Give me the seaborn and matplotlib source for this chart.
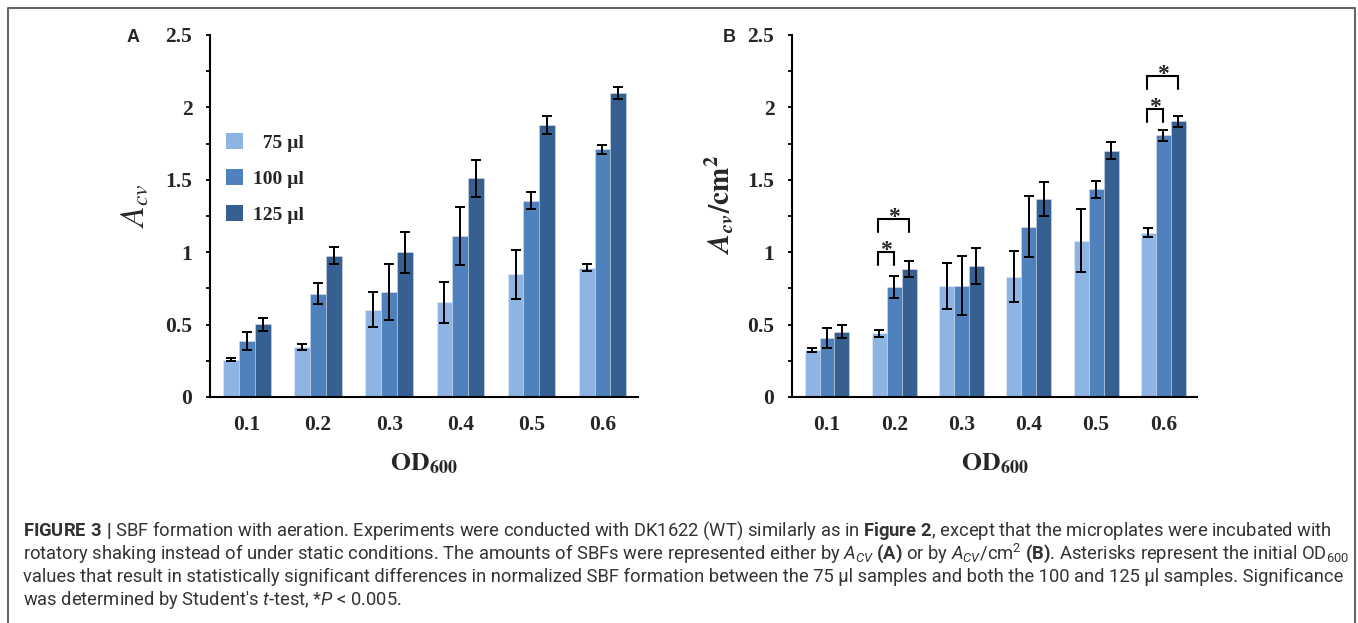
import numpy as np
import pandas as pd
import matplotlib
matplotlib.use("Agg")
import matplotlib.pyplot as plt
import seaborn as sns
from matplotlib.patches import Patch
from matplotlib.lines import Line2D
from matplotlib.ticker import MultipleLocator
from matplotlib.container import BarContainer

# ---------------- data ----------------
od_labels = ["0.1", "0.2", "0.3", "0.4", "0.5", "0.6"]
volumes = ["75 µl", "100 µl", "125 µl"]
legend_labels = ["  75 µl", "100 µl", "125 µl"]

# Panel A: A_cv
a_75 = [0.258, 0.346, 0.604, 0.654, 0.848, 0.894]
a_100 = [0.385, 0.714, 0.726, 1.113, 1.357, 1.712]
a_125 = [0.502, 0.975, 0.998, 1.509, 1.878, 2.099]
a_75_err = [0.012, 0.020, 0.123, 0.140, 0.170, 0.026]
a_100_err = [0.063, 0.073, 0.192, 0.200, 0.059, 0.031]
a_125_err = [0.046, 0.058, 0.140, 0.130, 0.063, 0.043]

# Panel B: A_cv/cm^2
b_75 = [0.323, 0.440, 0.765, 0.832, 1.078, 1.136]
b_100 = [0.408, 0.758, 0.770, 1.177, 1.435, 1.806]
b_125 = [0.452, 0.882, 0.906, 1.366, 1.700, 1.903]
b_75_err = [0.014, 0.024, 0.158, 0.177, 0.218, 0.032]
b_100_err = [0.069, 0.076, 0.203, 0.211, 0.060, 0.036]
b_125_err = [0.043, 0.054, 0.124, 0.117, 0.059, 0.039]

# significance brackets in panel B: (category index, bracket top, leg bottom)
sig_small = [(1, 1.00, 0.91), (5, 1.99, 1.90)]
sig_large = [(1, 1.23, 1.14), (5, 2.22, 2.13)]

colors = ["#8EB4E3", "#4F81BD", "#376092"]

# ---------------- style ----------------
sns.set_style("ticks")
plt.rcParams["font.family"] = ["Liberation Serif", "DejaVu Serif"]
plt.rcParams["mathtext.fontset"] = "custom"
plt.rcParams["mathtext.rm"] = "Roboto"
plt.rcParams["mathtext.it"] = "Roboto:italic"
plt.rcParams["mathtext.bf"] = "Roboto:bold"

W, H = 1358, 623
fig = plt.figure(figsize=(W / 100, H / 100), dpi=100)


def fx(px):
    return px / W


def fy(py):
    return 1 - py / H


axA = fig.add_axes([fx(210), fy(397), fx(638) - fx(210), fy(35) - fy(397)])
axB = fig.add_axes([fx(792), fy(397), fx(1197) - fx(792), fy(35) - fy(397)])


def panel(ax, vals, errs):
    df = pd.DataFrame({
        "od": od_labels * 3,
        "vol": np.repeat(volumes, len(od_labels)),
        "val": np.concatenate(vals),
    })
    sns.barplot(data=df, x="od", y="val", hue="vol", order=od_labels,
                hue_order=volumes, palette=colors, width=0.667, gap=0,
                errorbar=None, saturation=1, legend=False, ax=ax,
                edgecolor=(1, 1, 1, 0.35), linewidth=0.6)
    bars = [c for c in ax.containers if isinstance(c, BarContainer)]
    for cont, err in zip(bars, errs):
        xs = [p.get_x() + p.get_width() / 2 for p in cont]
        hs = [p.get_height() for p in cont]
        ax.errorbar(xs, hs, yerr=err, fmt="none", ecolor="black",
                    elinewidth=1.4, capsize=3.5, capthick=1.4, zorder=5)
    ax.set_ylim(0, 2.5)
    ax.set_xlim(-0.52, 5.5)
    ax.yaxis.set_major_locator(MultipleLocator(0.5))
    ax.yaxis.set_minor_locator(MultipleLocator(0.25))
    ax.yaxis.set_major_formatter(matplotlib.ticker.FuncFormatter(lambda v, p: f"{v:g}"))
    ax.tick_params(axis="y", which="both", direction="out", length=3.2,
                   width=1.3, color="black", pad=9.5)
    ax.tick_params(axis="x", length=0, pad=13)
    for lab in ax.get_xticklabels() + ax.get_yticklabels():
        lab.set_fontweight("bold")
        lab.set_fontsize(15.5)
        lab.set_fontfamily(["Liberation Serif", "DejaVu Serif"])
    for s in ["top", "right"]:
        ax.spines[s].set_visible(False)
    for s in ["left", "bottom"]:
        ax.spines[s].set_linewidth(1.5)
        ax.spines[s].set_color("black")
    ax.set_xlabel("")
    ax.set_ylabel("")
    return bars


barsA = panel(axA, [a_75, a_100, a_125], [a_75_err, a_100_err, a_125_err])
barsB = panel(axB, [b_75, b_100, b_125], [b_75_err, b_100_err, b_125_err])

# legend in panel A
handles = [Patch(facecolor=c, edgecolor="none") for c in colors]
leg = axA.legend(handles, legend_labels, loc="upper left",
                 bbox_to_anchor=(0.038, 0.728), frameon=False,
                 borderaxespad=0, borderpad=0, handlelength=0.85,
                 handleheight=0.85, handletextpad=0.5, labelspacing=0.9,
                 prop={"family": "Liberation Serif", "weight": "bold", "size": 14})


# significance brackets in panel B
def centers(bars, idx):
    return [(c[idx].get_x() + c[idx].get_width() / 2) for c in bars]


for (i, top, bot), (j, top2, bot2) in zip(sig_small, sig_large):
    c = centers(barsB, i)
    x0 = c[0] - 0.02
    axB.plot([x0, x0, c[1], c[1]], [bot, top, top, bot], color="black", lw=1.5,
             solid_joinstyle="miter", zorder=6)
    axB.text((x0 + c[1]) / 2, top + 0.01, "*", ha="center", va="center",
             fontsize=17, fontweight="bold", family="Liberation Serif")
    axB.plot([x0, x0, c[2], c[2]], [bot2, top2, top2, bot2], color="black", lw=1.5,
             solid_joinstyle="miter", zorder=6)
    axB.text((x0 + c[2]) / 2, top2 + 0.01, "*", ha="center", va="center",
             fontsize=17, fontweight="bold", family="Liberation Serif")

# axis labels
fig.text(fx(135), fy(206), r"$A_{cv}$", rotation=90, ha="center", va="center",
         fontsize=24, math_fontfamily="stix")
fig.text(fx(720), fy(205), r"$\mathbfit{A}_{\mathbfit{cv}}\mathbf{/cm}^{\mathbf{2}}$",
         rotation=90, ha="center", va="center", fontsize=21, math_fontfamily="stix")
for cx in [(210 + 638) / 2, (792 + 1197) / 2]:
    fig.text(fx(cx), fy(464), r"$\mathbf{OD}_{\mathbf{600}}$", ha="center",
             va="center", fontsize=18.5, math_fontfamily="stix")

# panel letters
fig.text(fx(133), fy(37), "A", ha="center", va="center", fontsize=13,
         fontweight="bold", family="Liberation Sans")
fig.text(fx(729), fy(37), "B", ha="center", va="center", fontsize=13,
         fontweight="bold", family="Liberation Sans")

# caption
cap_lines = [
    r"$\mathbf{FIGURE\ 3\ |}$ SBF formation with aeration. Experiments were conducted with DK1622 (WT) similarly as in $\mathbf{Figure\ 2}$, except that the microplates were incubated with",
    r"rotatory shaking instead of under static conditions. The amounts of SBFs were represented either by $\mathit{A}_{\mathit{CV}}$ $\mathbf{(A)}$ or by $\mathit{A}_{\mathit{CV}}\mathrm{/cm}^{2}$ $\mathbf{(B)}$. Asterisks represent the initial OD$_{600}$",
    "values that result in statistically significant differences in normalized SBF formation between the 75 µl samples and both the 100 and 125 µl samples. Significance",
    r"was determined by Student's $t$-test, *$P$ < 0.005.",
]
cap_base = [536, 559, 582, 605]
cap_texts = []
for line, yb in zip(cap_lines, cap_base):
    t = fig.text(fx(23), fy(yb), line, ha="left", va="baseline", fontsize=13,
                 family=["Roboto", "Liberation Sans"], color="#333333",
                 math_fontfamily="custom")
    cap_texts.append(t)

# fit caption width to the reference text block (first line ~1302 px wide)
renderer = fig.canvas.get_renderer()
w0 = cap_texts[0].get_window_extent(renderer).width
fs = 13 * 1302 / w0
for t in cap_texts:
    t.set_fontsize(fs)

# frame around the figure
fig.add_artist(Line2D([fx(8), fx(8), fx(1355), fx(1355)],
                      [fy(625), fy(8), fy(8), fy(625)],
                      transform=fig.transFigure, color="#666666", lw=1.5))

fig.savefig("out.png", dpi=100)
